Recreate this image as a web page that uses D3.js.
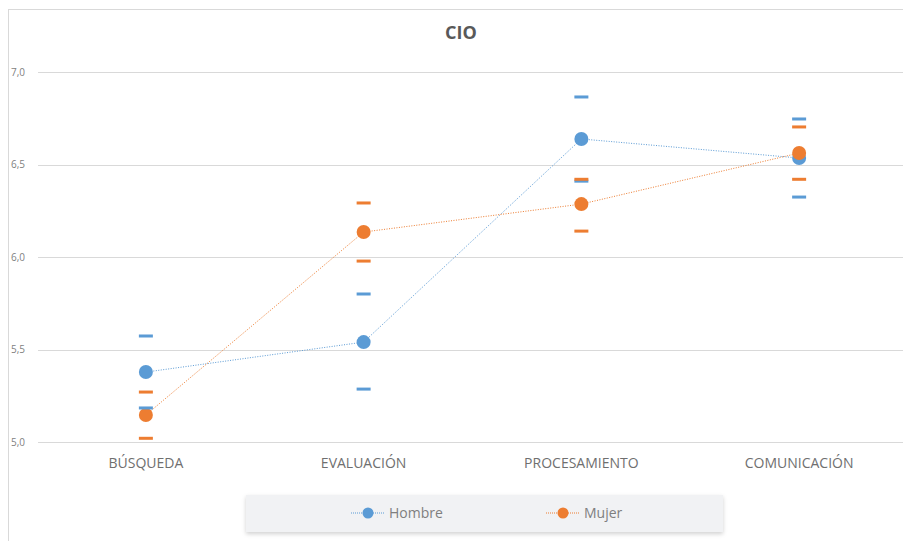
<!DOCTYPE html>
<html>
<head>
<meta charset="utf-8">
<script src="https://cdn.jsdelivr.net/npm/d3@7/dist/d3.min.js"></script>
<style>
html,body{margin:0;padding:0;background:#fff;}
svg{display:block;font-family:"Open Sans","Noto Sans",sans-serif;}
</style>
</head>
<body>
<svg id="chart" width="903" height="541"></svg>
<script>
const categories = ["BÚSQUEDA", "EVALUACIÓN", "PROCESAMIENTO", "COMUNICACIÓN"];
const hombre = [5.378, 5.54, 6.638, 6.535];
const mujer = [5.146, 6.135, 6.286, 6.562];
const hombreHigh = [5.573, 5.80, 6.865, 6.746];
const hombreLow = [5.184, 5.286, 6.41, 6.324];
const mujerHigh = [5.27, 6.292, 6.42, 6.703];
const mujerLow = [5.02, 5.978, 6.14, 6.42];
const yTicks = [5.0, 5.5, 6.0, 6.5, 7.0];
const title = "CIO";
const seriesNames = ["Hombre", "Mujer"];
const colors = ["#5B9BD5", "#ED7D31"];

const svg = d3.select("#chart");
const W = 903, H = 541;

// outer chart border
svg.append("rect").attr("x", 8.5).attr("y", 9.5).attr("width", W + 10).attr("height", H + 10)
  .attr("fill", "none").attr("stroke", "#d9d9d9").attr("stroke-width", 1);

const x = d3.scaleBand().domain(categories).range([37, 908]);
const y = d3.scaleLinear().domain([5, 7]).range([442, 72]);
const cx = c => x(c) + x.bandwidth() / 2;

// gridlines
svg.append("g").selectAll("line").data(yTicks).join("line")
  .attr("x1", 38).attr("x2", W)
  .attr("y1", d => Math.round(y(d)) + 0.5).attr("y2", d => Math.round(y(d)) + 0.5)
  .attr("stroke", "#d9d9d9").attr("stroke-width", 1);

// y axis labels
const fmt = d => d3.format(".1f")(d).replace(".", ",");
svg.append("g").selectAll("text").data(yTicks).join("text")
  .attr("x", 11).attr("y", d => y(d) + 3.5)
  .attr("font-size", 10).attr("fill", "#7f7f7f").text(fmt);

// x axis labels
svg.append("g").selectAll("text").data(categories).join("text")
  .attr("x", d => cx(d)).attr("y", 468).attr("text-anchor", "middle")
  .attr("font-size", 14).attr("fill", "#6f6f6f").text(d => d);

// title
svg.append("text").attr("x", 461).attr("y", 39).attr("text-anchor", "middle")
  .attr("font-size", 18).attr("font-weight", "bold").attr("fill", "#595959").text(title);

const line = d3.line().x((d, i) => cx(categories[i])).y(d => y(d));
const mainSeries = [hombre, mujer];

mainSeries.forEach((vals, s) => {
  svg.append("path").datum(vals).attr("d", line)
    .attr("fill", "none").attr("stroke", colors[s]).attr("stroke-width", 1)
    .attr("stroke-dasharray", "1,1.5");
});
mainSeries.forEach((vals, s) => {
  svg.append("g").selectAll("circle").data(vals).join("circle")
    .attr("cx", (d, i) => cx(categories[i])).attr("cy", d => y(d)).attr("r", 7)
    .attr("fill", colors[s]);
});

// high/low dashes
const dashSeries = [[hombreHigh, 0], [hombreLow, 0], [mujerHigh, 1], [mujerLow, 1]];
dashSeries.forEach(([vals, s]) => {
  svg.append("g").selectAll("rect").data(vals).join("rect")
    .attr("x", (d, i) => cx(categories[i]) - 7).attr("y", d => y(d) - 1.5)
    .attr("width", 14).attr("height", 3).attr("fill", colors[s]);
});

// legend
const defs = svg.append("defs");
const f = defs.append("filter").attr("id", "sh").attr("x", "-5%").attr("y", "-30%").attr("width", "110%").attr("height", "180%");
f.append("feDropShadow").attr("dx", 0).attr("dy", 2).attr("stdDeviation", 2).attr("flood-color", "#000").attr("flood-opacity", 0.18);
svg.append("rect").attr("x", 246).attr("y", 495).attr("width", 477).attr("height", 37)
  .attr("fill", "#f1f2f4").attr("filter", "url(#sh)");

const legX = [368, 563];
seriesNames.forEach((n, s) => {
  const g = svg.append("g");
  g.append("line").attr("x1", legX[s] - 17).attr("x2", legX[s] + 17).attr("y1", 513).attr("y2", 513)
    .attr("stroke", colors[s]).attr("stroke-width", 1).attr("stroke-dasharray", "1,1");
  g.append("circle").attr("cx", legX[s]).attr("cy", 513).attr("r", 5.5).attr("fill", colors[s]);
  g.append("text").attr("x", legX[s] + 21).attr("y", 518).attr("font-size", 14)
    .attr("fill", "#7f7f7f").text(n);
});
</script>
</body>
</html>
